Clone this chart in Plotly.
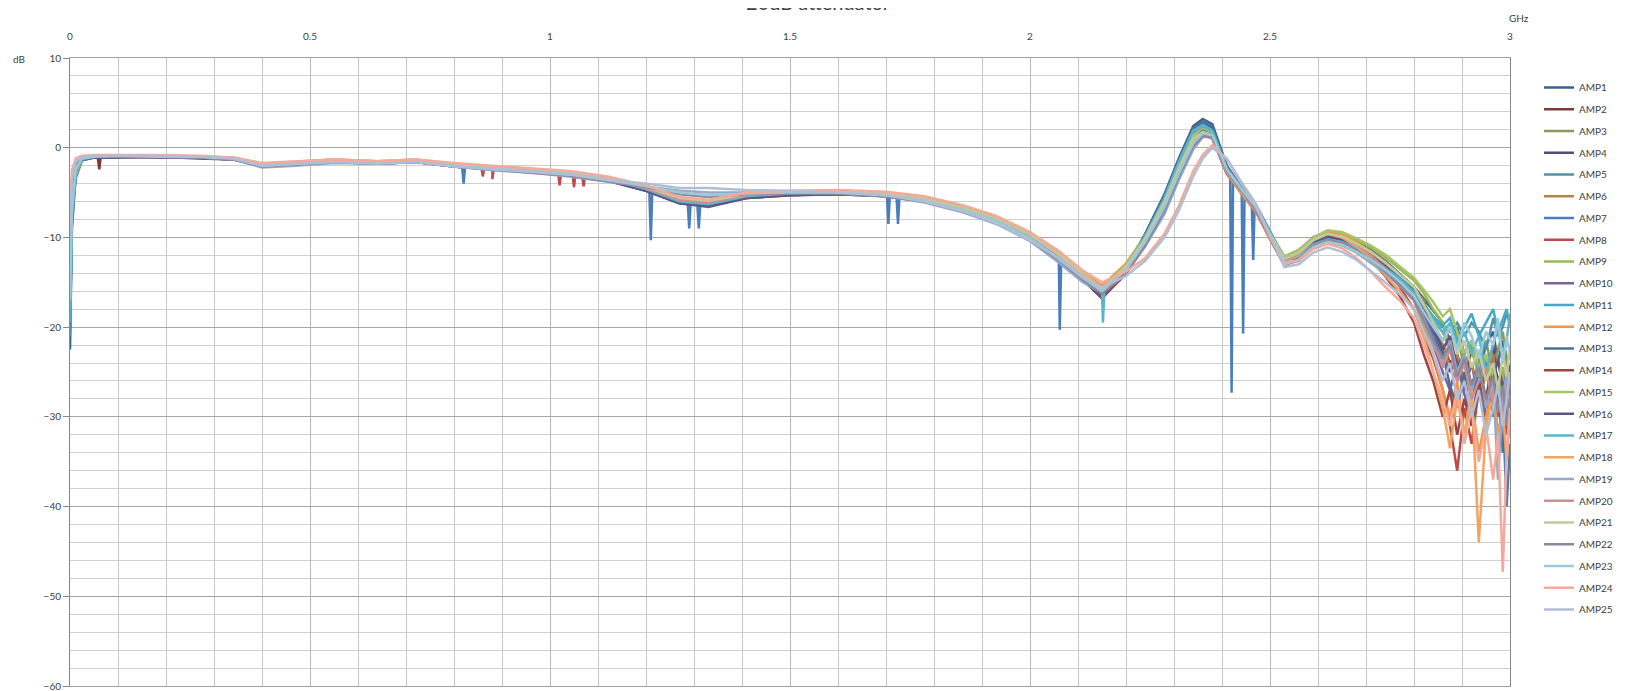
import plotly.graph_objects as go

# ---------------- data ----------------
FREQ_GHZ = [0.000, 0.004, 0.012, 0.025, 0.05,
            0.10, 0.18, 0.27, 0.34, 0.40, 0.47, 0.55, 0.64, 0.72, 0.80, 0.88, 0.96, 1.04, 1.12,
            1.20, 1.27, 1.33, 1.41, 1.50, 1.60, 1.70, 1.78, 1.86, 1.93, 2.00,
            2.06, 2.11, 2.15, 2.20, 2.24, 2.28, 2.31, 2.34, 2.36, 2.38, 2.41, 2.44, 2.47,
            2.50, 2.53, 2.56, 2.59, 2.62, 2.65, 2.68, 2.71, 2.74, 2.77,
            2.80, 2.82, 2.84, 2.86, 2.875, 2.89, 2.905, 2.92, 2.935, 2.95, 2.965, 2.975, 2.985, 2.993, 3.000]

amp1 = [-22.5, -9.0, -3.0, -1.4, -1.1,
        -1.0, -0.9, -1.1, -1.2, -2.1, -1.9, -1.6, -1.8, -1.5, -2.1, -2.4, -2.7, -3.0, -3.6,
        -4.7, -6.2, -6.5, -5.5, -5.2, -5.1, -5.3, -5.9, -6.9, -8.2, -10.1,
        -12.4, -14.6, -16.3, -13.5, -9.6, -5.2, -1.2, 2.4, 3.2, 2.6, -2.0, -4.4, -6.4,
        -9.6, -12.8, -12.2, -10.3, -9.4, -9.6, -10.4, -11.4, -12.6, -14.0,
        -15.5, -16.8, -18.2, -19.5, -21.5, -20.0, -23.0, -21.5, -25.0, -22.0, -20.5, -24.0, -21.5, -23.5, -25.0]
amp2 = [-14.0, -6.5, -2.2, -1.2, -1.1,
        -1.0, -1.0, -1.2, -1.3, -2.0, -1.7, -1.5, -1.6, -1.4, -1.9, -2.2, -2.5, -2.8, -3.4,
        -4.5, -6.1, -6.4, -5.5, -5.0, -4.9, -5.1, -5.7, -6.7, -7.9, -9.7,
        -12.1, -14.4, -16.4, -13.6, -10.1, -5.8, -1.8, 1.6, 2.5, 1.9, -2.4, -4.5, -6.7,
        -9.4, -12.6, -11.6, -10.0, -9.4, -9.7, -10.6, -11.7, -13.1, -14.8,
        -16.5, -18.0, -20.0, -22.0, -24.0, -23.0, -26.0, -22.5, -25.0, -28.0, -23.5, -26.0, -24.5, -27.0, -29.0]
amp3 = [-12.0, -5.5, -2.0, -1.2, -1.0,
        -1.1, -1.0, -1.0, -1.2, -1.9, -1.8, -1.4, -1.7, -1.6, -2.0, -2.3, -2.6, -2.9, -3.5,
        -4.6, -5.9, -6.2, -5.3, -5.1, -5.0, -5.1, -5.7, -6.7, -7.9, -9.6,
        -11.8, -14.0, -15.7, -13.1, -9.9, -5.9, -2.0, 1.3, 2.3, 1.7, -2.6, -4.8, -6.8,
        -9.6, -12.3, -11.8, -10.4, -9.7, -10.1, -10.9, -11.7, -12.8, -14.2,
        -15.8, -17.0, -19.5, -20.5, -22.5, -21.0, -24.5, -22.0, -24.0, -21.5, -25.5, -22.5, -20.5, -24.0, -23.0]
amp4 = [-10.0, -5.0, -1.8, -1.2, -1.0,
        -1.0, -1.1, -1.1, -1.3, -2.1, -1.9, -1.6, -1.7, -1.5, -2.0, -2.4, -2.6, -3.0, -3.6,
        -4.7, -6.1, -6.4, -5.5, -5.2, -5.1, -5.3, -5.9, -7.0, -8.2, -10.1,
        -12.3, -14.7, -16.8, -13.9, -10.4, -6.2, -2.4, 1.0, 2.0, 1.4, -2.7, -4.8, -6.9,
        -9.9, -12.9, -12.2, -10.7, -9.9, -10.4, -11.3, -12.4, -13.6, -15.2,
        -16.8, -18.5, -20.5, -22.5, -25.0, -23.5, -27.0, -24.0, -28.0, -25.0, -22.0, -27.5, -25.0, -29.0, -26.0]
amp5 = [-21.0, -8.5, -2.8, -1.3, -1.0,
        -0.9, -1.0, -1.0, -1.2, -2.0, -1.8, -1.5, -1.7, -1.6, -2.0, -2.3, -2.7, -3.0, -3.6,
        -4.8, -6.2, -6.5, -5.6, -5.3, -5.1, -5.3, -5.9, -6.9, -8.1, -10.0,
        -12.2, -14.4, -16.0, -13.4, -9.8, -5.5, -1.6, 1.9, 2.6, 2.0, -2.2, -4.3, -6.3,
        -9.3, -12.4, -12.4, -10.9, -10.3, -10.6, -11.4, -12.4, -13.6, -14.8,
        -16.2, -17.5, -19.0, -20.0, -20.5, -19.5, -21.0, -19.5, -20.5, -22.5, -19.0, -21.0, -20.0, -18.5, -19.5]
amp6 = [-9.0, -4.5, -1.8, -1.1, -0.9,
        -1.0, -0.9, -1.0, -1.2, -1.9, -1.7, -1.4, -1.6, -1.4, -1.9, -2.2, -2.5, -2.8, -3.4,
        -4.5, -5.9, -6.2, -5.3, -5.0, -4.9, -5.1, -5.6, -6.6, -7.8, -9.6,
        -11.7, -13.9, -15.5, -13.0, -9.9, -5.9, -2.1, 1.4, 2.2, 1.6, -2.5, -4.7, -6.7,
        -9.5, -12.2, -11.4, -10.0, -9.4, -9.7, -10.5, -11.5, -12.7, -14.1,
        -15.6, -17.2, -19.5, -22.0, -24.5, -23.0, -26.0, -24.0, -27.5, -25.5, -23.0, -29.0, -26.5, -24.0, -28.0]
amp7 = [-20.0, -7.5, -3.4, -1.4, -1.1,
        -1.0, -1.0, -1.1, -1.3, -2.1, -1.9, -1.6, -1.8, -1.6, -2.1, -2.4, -2.7, -3.0, -3.6,
        -4.7, -6.1, -6.5, -5.5, -5.2, -5.1, -5.3, -5.9, -6.9, -8.1, -10.0,
        -12.3, -14.5, -16.1, -13.3, -9.7, -5.4, -1.4, 2.1, 2.8, 2.2, -2.3, -4.5, -6.5,
        -9.7, -12.9, -12.3, -10.8, -10.2, -10.5, -11.4, -12.5, -13.8, -15.1,
        -16.8, -18.5, -21.0, -23.5, -22.0, -26.0, -24.0, -28.0, -25.0, -30.0, -27.0, -32.0, -29.0, -40.0, -33.0]
amp8 = [-13.0, -6.0, -2.2, -1.2, -1.0,
        -1.0, -1.0, -1.1, -1.2, -2.0, -1.8, -1.5, -1.7, -1.5, -2.0, -2.3, -2.6, -2.9, -3.5,
        -4.6, -6.0, -6.3, -5.4, -5.1, -5.0, -5.2, -5.8, -6.9, -8.1, -10.0,
        -12.3, -14.6, -16.6, -14.0, -10.6, -6.5, -2.8, 0.7, 1.8, 1.2, -2.8, -5.0, -7.0,
        -10.0, -12.9, -11.9, -10.3, -9.6, -9.9, -10.7, -11.9, -13.6, -15.5,
        -18.0, -21.0, -23.5, -27.0, -31.0, -36.0, -29.0, -33.0, -27.0, -31.0, -26.0, -30.0, -28.0, -32.0, -29.0]
amp9 = [-11.0, -5.0, -3.1, -1.3, -1.0,
        -1.0, -1.0, -1.0, -1.2, -1.9, -1.7, -1.4, -1.6, -1.5, -1.9, -2.2, -2.5, -2.8, -3.4,
        -4.5, -5.9, -6.2, -5.3, -5.0, -4.9, -5.1, -5.7, -6.7, -7.9, -9.7,
        -11.9, -14.1, -15.8, -13.2, -10.0, -5.9, -2.1, 1.2, 2.0, 1.5, -2.6, -4.7, -6.8,
        -9.6, -12.2, -11.6, -10.2, -9.4, -9.6, -10.3, -11.1, -12.2, -13.5,
        -14.8, -16.2, -18.0, -19.5, -22.0, -20.5, -24.0, -22.5, -25.5, -23.5, -26.5, -28.5, -24.5, -27.5, -29.5]
amp10 = [-9.5, -4.8, -1.9, -1.2, -1.0,
         -1.0, -1.0, -1.1, -1.3, -2.0, -1.9, -1.6, -1.7, -1.5, -2.0, -2.4, -2.7, -3.0, -3.6,
         -4.7, -6.1, -6.4, -5.5, -5.2, -5.1, -5.3, -6.0, -7.0, -8.3, -10.2,
         -12.5, -14.7, -16.5, -13.9, -10.6, -6.5, -2.9, 0.5, 1.5, 1.0, -2.9, -5.0, -7.0,
         -10.0, -13.0, -12.3, -10.8, -10.0, -10.4, -11.3, -12.4, -13.7, -15.3,
         -17.0, -19.5, -22.0, -25.0, -27.0, -24.0, -27.5, -30.0, -26.0, -29.0, -25.5, -28.0, -31.0, -27.0, -29.5]
amp11 = [-18.0, -7.0, -2.5, -1.2, -1.0,
         -0.9, -1.0, -1.0, -1.2, -2.0, -1.8, -1.5, -1.6, -1.5, -2.0, -2.3, -2.6, -2.9, -3.5,
         -4.6, -6.0, -6.3, -5.4, -5.1, -5.0, -5.2, -5.8, -6.8, -8.0, -9.9,
         -12.1, -14.3, -15.9, -13.3, -9.8, -5.5, -1.5, 1.8, 2.4, 1.8, -2.3, -4.4, -6.4,
         -9.4, -12.3, -12.1, -10.6, -10.0, -10.3, -11.1, -12.1, -13.2, -14.4,
         -16.0, -17.4, -18.8, -19.8, -19.0, -21.5, -20.0, -18.5, -21.0, -19.5, -18.0, -20.5, -19.0, -18.0, -20.0]
amp12 = [-8.5, -3.5, -1.5, -1.0, -0.9,
         -0.9, -0.9, -1.0, -1.1, -1.8, -1.6, -1.3, -1.5, -1.3, -1.8, -2.1, -2.4, -2.7, -3.3,
         -4.4, -5.8, -6.1, -5.2, -4.9, -4.8, -5.0, -5.5, -6.5, -7.7, -9.5,
         -11.6, -13.8, -15.4, -12.9, -9.8, -5.8, -2.0, 1.3, 2.0, 1.5, -2.6, -4.8, -6.9,
         -9.9, -12.4, -11.7, -10.1, -9.3, -9.6, -10.5, -11.8, -13.2, -14.8,
         -17.0, -20.0, -23.0, -27.0, -30.0, -26.0, -32.0, -28.0, -34.0, -30.0, -27.0, -32.0, -29.0, -26.0, -31.0]
amp13 = [-16.0, -6.5, -2.4, -1.3, -1.1,
         -1.0, -1.0, -1.1, -1.2, -2.1, -1.9, -1.6, -1.7, -1.6, -2.1, -2.4, -2.7, -3.0, -3.7,
         -4.8, -6.2, -6.6, -5.6, -5.3, -5.2, -5.4, -6.0, -7.0, -8.2, -10.1,
         -12.4, -14.6, -16.2, -13.5, -9.7, -5.3, -1.3, 2.2, 2.9, 2.3, -2.1, -4.3, -6.3,
         -9.5, -12.7, -12.0, -10.5, -9.9, -10.3, -11.1, -12.1, -13.3, -14.6,
         -16.3, -18.2, -20.5, -23.0, -26.5, -29.0, -25.0, -31.0, -27.0, -24.0, -30.0, -26.0, -34.0, -29.0, -25.0]
amp14 = [-11.5, -5.5, -2.0, -1.2, -1.0,
         -1.0, -1.0, -1.1, -1.3, -2.0, -1.8, -1.6, -1.7, -1.5, -2.0, -2.3, -2.6, -3.0, -3.6,
         -4.7, -6.1, -6.4, -5.5, -5.1, -5.0, -5.2, -5.9, -6.9, -8.1, -10.0,
         -12.4, -14.7, -16.7, -14.1, -10.7, -6.6, -3.0, 0.6, 1.7, 1.1, -2.9, -5.1, -7.1,
         -10.2, -13.1, -12.2, -10.7, -9.9, -10.3, -11.2, -12.5, -14.3, -16.5,
         -19.5, -23.0, -26.0, -30.0, -27.0, -32.0, -28.0, -31.0, -26.0, -29.0, -25.0, -28.0, -30.0, -27.0, -29.0]
amp15 = [-10.5, -4.5, -1.8, -1.1, -1.0,
         -1.0, -1.0, -1.0, -1.2, -1.9, -1.7, -1.5, -1.6, -1.4, -1.9, -2.2, -2.5, -2.8, -3.4,
         -4.5, -5.9, -6.2, -5.3, -5.0, -4.9, -5.1, -5.6, -6.6, -7.8, -9.6,
         -11.8, -14.0, -15.6, -13.0, -9.9, -5.8, -2.0, 1.4, 2.1, 1.6, -2.5, -4.6, -6.7,
         -9.5, -12.1, -11.4, -10.0, -9.2, -9.4, -10.1, -10.9, -11.9, -13.2,
         -14.5, -15.8, -17.2, -18.8, -18.0, -20.5, -23.0, -21.5, -24.5, -23.0, -25.5, -23.5, -27.0, -24.5, -28.5]
amp16 = [-13.5, -6.0, -2.3, -1.3, -1.1,
         -1.1, -1.0, -1.1, -1.3, -2.1, -1.9, -1.6, -1.8, -1.6, -2.1, -2.4, -2.7, -3.0, -3.7,
         -4.8, -6.2, -6.5, -5.6, -5.3, -5.2, -5.4, -6.0, -7.0, -8.3, -10.2,
         -12.5, -14.8, -16.6, -13.8, -10.4, -6.3, -2.5, 0.9, 1.9, 1.4, -2.7, -4.9, -6.9,
         -9.8, -12.8, -12.1, -10.6, -9.9, -10.2, -11.0, -12.0, -13.2, -14.6,
         -16.0, -18.0, -20.0, -22.5, -21.0, -24.5, -23.0, -26.5, -24.0, -28.0, -26.0, -23.5, -27.0, -25.0, -28.5]
amp17 = [-19.5, -7.5, -2.6, -1.3, -1.0,
         -1.0, -1.0, -1.0, -1.2, -2.0, -1.8, -1.5, -1.7, -1.5, -2.0, -2.3, -2.6, -2.9, -3.5,
         -4.6, -6.0, -6.3, -5.4, -5.1, -5.0, -5.2, -5.8, -6.8, -8.0, -9.9,
         -12.1, -14.3, -15.9, -13.3, -9.9, -5.6, -1.6, 1.9, 2.5, 1.9, -2.3, -4.4, -6.4,
         -9.4, -12.4, -12.2, -10.8, -10.2, -10.5, -11.2, -12.2, -13.4, -14.6,
         -16.1, -17.6, -19.0, -20.6, -19.5, -22.0, -20.5, -23.0, -21.0, -25.0, -22.0, -20.0, -23.5, -21.5, -18.5]
amp18 = [-8.0, -3.5, -1.6, -1.0, -0.9,
         -0.9, -0.9, -1.0, -1.1, -1.8, -1.6, -1.3, -1.5, -1.4, -1.8, -2.1, -2.4, -2.7, -3.3,
         -4.4, -5.8, -6.0, -5.2, -4.9, -4.8, -5.0, -5.5, -6.5, -7.7, -9.5,
         -11.6, -13.9, -15.6, -13.2, -10.3, -6.4, -2.7, 0.7, 1.6, 1.1, -2.8, -5.1, -7.1,
         -10.2, -12.8, -11.9, -10.3, -9.6, -10.0, -11.0, -12.4, -14.2, -16.0,
         -18.0, -21.0, -25.0, -29.0, -33.5, -28.0, -32.0, -27.0, -44.0, -31.0, -27.5, -33.0, -29.0, -35.0, -30.0]
amp19 = [-15.0, -6.5, -2.2, -1.1, -0.9,
         -1.0, -1.0, -1.1, -1.3, -2.2, -2.0, -1.7, -1.8, -1.6, -2.1, -2.5, -2.8, -3.2, -3.8,
         -4.3, -4.8, -5.0, -5.0, -5.0, -5.1, -5.4, -6.1, -7.2, -8.5, -10.4,
         -12.8, -15.0, -16.2, -14.0, -11.0, -7.4, -3.6, -0.2, 1.2, 1.2, -2.4, -4.7, -6.8,
         -9.9, -13.0, -12.6, -11.2, -10.5, -10.9, -11.7, -12.8, -14.0, -15.4,
         -17.0, -19.5, -22.0, -24.0, -21.5, -25.0, -23.0, -27.0, -24.0, -29.0, -26.0, -37.0, -28.0, -25.0, -30.0]
amp20 = [-12.5, -5.5, -2.0, -1.1, -0.9,
         -0.9, -1.0, -1.0, -1.2, -1.9, -1.7, -1.5, -1.6, -1.5, -1.9, -2.2, -2.5, -2.8, -3.4,
         -4.5, -5.8, -6.1, -5.3, -5.0, -4.9, -5.1, -5.7, -6.7, -7.9, -9.7,
         -12.0, -14.2, -16.0, -13.4, -10.3, -6.4, -2.8, 0.5, 1.4, 1.0, -2.7, -4.9, -7.0,
         -9.9, -12.7, -11.8, -10.3, -9.6, -9.9, -10.8, -12.0, -13.5, -15.1,
         -17.0, -19.0, -21.5, -24.5, -22.5, -26.0, -24.0, -28.0, -26.0, -24.5, -29.0, -26.5, -30.0, -27.0, -32.0]
amp21 = [-10.0, -4.5, -1.7, -1.1, -0.9,
         -0.9, -0.9, -1.0, -1.2, -1.9, -1.7, -1.4, -1.6, -1.4, -1.9, -2.2, -2.5, -2.8, -3.4,
         -4.4, -5.6, -5.9, -5.2, -4.9, -4.9, -5.1, -5.7, -6.7, -7.9, -9.7,
         -11.9, -14.1, -15.8, -13.3, -10.1, -6.0, -2.3, 1.0, 1.8, 1.4, -2.6, -4.7, -6.8,
         -9.6, -12.4, -11.7, -10.3, -9.6, -9.9, -10.7, -11.6, -12.8, -14.1,
         -15.5, -17.5, -19.5, -21.5, -20.0, -23.0, -21.5, -24.5, -22.5, -26.0, -24.0, -27.0, -23.0, -25.5, -22.0]
amp22 = [-12.0, -5.0, -2.0, -1.2, -1.0,
         -1.0, -1.0, -1.1, -1.3, -2.1, -1.9, -1.6, -1.8, -1.6, -2.1, -2.4, -2.8, -3.1, -3.7,
         -4.4, -5.2, -5.5, -5.2, -5.1, -5.1, -5.4, -6.0, -7.1, -8.3, -10.2,
         -12.5, -14.7, -16.3, -14.0, -10.9, -7.0, -3.2, 0.2, 1.3, 1.2, -2.6, -4.8, -6.9,
         -10.0, -13.1, -12.5, -11.0, -10.3, -10.6, -11.4, -12.5, -13.8, -15.3,
         -17.0, -19.2, -21.5, -23.5, -22.0, -25.5, -23.5, -26.5, -24.5, -28.0, -25.5, -29.5, -26.5, -31.0, -28.0]
amp23 = [-17.0, -7.0, -2.4, -1.2, -1.0,
         -0.9, -1.0, -1.0, -1.2, -2.0, -1.8, -1.5, -1.7, -1.5, -2.0, -2.3, -2.6, -2.9, -3.6,
         -4.3, -5.0, -5.3, -5.1, -5.0, -5.0, -5.3, -5.9, -7.0, -8.2, -10.1,
         -12.4, -14.5, -16.0, -13.6, -10.5, -6.6, -2.9, 0.5, 1.6, 1.4, -2.4, -4.6, -6.6,
         -9.8, -12.8, -12.5, -11.1, -10.5, -10.8, -11.6, -12.5, -13.6, -14.9,
         -16.5, -18.3, -20.0, -21.5, -20.0, -22.5, -19.5, -21.0, -23.5, -20.5, -22.0, -19.0, -24.0, -21.0, -23.0]
amp24 = [-7.0, -2.5, -1.2, -0.9, -0.8,
         -0.8, -0.8, -0.9, -1.1, -1.7, -1.5, -1.3, -1.5, -1.3, -1.7, -2.0, -2.3, -2.6, -3.2,
         -4.2, -5.5, -5.8, -5.0, -4.8, -4.7, -4.9, -5.4, -6.4, -7.6, -9.4,
         -11.5, -13.7, -15.0, -13.8, -12.3, -9.6, -6.5, -2.6, -0.8, 0.3, -1.3, -3.9, -6.3,
         -9.9, -13.0, -12.5, -11.3, -10.7, -11.2, -12.3, -13.8, -15.5, -17.0,
         -19.0, -22.0, -25.0, -28.0, -31.0, -27.0, -33.0, -29.0, -35.0, -31.0, -37.0, -32.0, -47.3, -34.0, -29.0]
amp25 = [-9.0, -3.5, -1.5, -1.0, -0.9,
         -0.9, -0.9, -1.0, -1.2, -2.0, -1.8, -1.6, -1.8, -1.6, -2.1, -2.4, -2.7, -3.0, -3.6,
         -4.0, -4.5, -4.5, -4.7, -4.8, -5.0, -5.3, -6.0, -7.1, -8.4, -10.3,
         -12.3, -14.5, -15.6, -14.3, -12.6, -10.0, -7.0, -3.2, -1.2, 0.0, -1.2, -3.8, -6.2,
         -9.7, -13.3, -13.0, -11.7, -11.1, -11.6, -12.5, -13.7, -15.0, -16.3,
         -18.0, -20.5, -23.0, -26.0, -24.0, -28.0, -26.0, -30.0, -27.0, -32.0, -29.0, -26.5, -31.0, -28.0, -25.0]

# narrow glitches visible on single traces
AMP2_SPIKE_F = [0.058, 0.061, 0.064]
AMP2_SPIKE_DB = [-1.1, -2.4, -1.05]
AMP7_SPIKE_F = [0.817, 0.820, 0.823,
                1.207, 1.210, 1.213, 1.287, 1.290, 1.293, 1.307, 1.310, 1.313,
                1.702, 1.705, 1.708, 1.722, 1.725, 1.728, 2.059, 2.062, 2.065,
                2.417, 2.420, 2.423, 2.441, 2.444, 2.447, 2.462, 2.465, 2.468]
AMP7_SPIKE_DB = [-2.2, -4.0, -2.2,
                 -4.85, -10.3, -4.95, -6.2, -9.0, -6.25, -6.35, -9.0, -6.4,
                 -5.3, -8.5, -5.35, -5.45, -8.5, -5.5, -12.35, -20.3, -12.5,
                 -2.9, -27.3, -3.1, -4.7, -20.7, -4.9, -6.1, -12.5, -6.3]
AMP8_SPIKE_F = [0.857, 0.860, 0.863, 0.877, 0.880, 0.883,
                1.017, 1.020, 1.023, 1.047, 1.050, 1.053, 1.067, 1.070, 1.073]
AMP8_SPIKE_DB = [-2.2, -3.2, -2.25, -2.3, -3.5, -2.3,
                 -2.8, -4.2, -2.85, -3.0, -4.4, -3.0, -3.15, -4.3, -3.2]
AMP17_SPIKE_F = [2.152, 2.155]
AMP17_SPIKE_DB = [-19.5, -15.6]

SERIES_NAMES = ["AMP%d" % i for i in range(1, 26)]
SERIES_VALUES = [amp1, amp2, amp3, amp4, amp5, amp6, amp7, amp8, amp9, amp10,
                 amp11, amp12, amp13, amp14, amp15, amp16, amp17, amp18, amp19, amp20,
                 amp21, amp22, amp23, amp24, amp25]
SPIKES = {"AMP2": (AMP2_SPIKE_F, AMP2_SPIKE_DB),
          "AMP7": (AMP7_SPIKE_F, AMP7_SPIKE_DB),
          "AMP8": (AMP8_SPIKE_F, AMP8_SPIKE_DB),
          "AMP17": (AMP17_SPIKE_F, AMP17_SPIKE_DB)}

COLORS = ["#3B6291", "#7B3B3A", "#8D9A58", "#5A4A78", "#4E93AA", "#B5834A",
          "#4A7EBB", "#BE4B48", "#98B954", "#7D60A0", "#46AAC5", "#F59645",
          "#4C6F96", "#9A4744", "#A8C46A", "#63527F", "#5AB5CC", "#F3A460",
          "#94A9C9", "#C99090", "#BFCB9E", "#8E8799", "#9BC9D8", "#F4AA9A", "#B2BED6"]

for name, vals in zip(SERIES_NAMES, SERIES_VALUES):
    assert len(vals) == len(FREQ_GHZ), (name, len(vals))

# ---------------- figure ----------------
# the page body has an 8px default margin, so the figure is 8px smaller
W, H = 1617, 683
ML, MT, PW, PH = 62, 50, 1440, 628
FONT = "Lato, 'Open Sans', sans-serif"


def px_x(x):  # figure-pixel x -> paper x
    return (x - ML) / PW


def px_y(y):  # figure-pixel y -> paper y
    return 1 - (y - MT) / PH


fig = go.Figure()
for name, vals, col in zip(SERIES_NAMES, SERIES_VALUES, COLORS):
    pts = list(zip(FREQ_GHZ, vals))
    if name in SPIKES:
        pts += list(zip(*SPIKES[name]))
        pts.sort(key=lambda p: p[0])
    fig.add_trace(go.Scatter(
        x=[p[0] for p in pts], y=[p[1] for p in pts], name=name, mode="lines",
        legendgroup=name, line=dict(color=col, width=2.5), hoverinfo="skip"))

fig.update_layout(
    width=W, height=H,
    margin=dict(l=ML, r=W - ML - PW, t=MT, b=H - MT - PH, autoexpand=False),
    paper_bgcolor="white", plot_bgcolor="white",
    font=dict(family=FONT, size=10, color="#404040"),
    showlegend=True,
    legend=dict(x=px_x(1531), xanchor="left", y=px_y(65), yanchor="top",
                traceorder="grouped", tracegroupgap=2.75,
                font=dict(family=FONT, size=10, color="#404040"),
                bgcolor="rgba(0,0,0,0)", borderwidth=0),
    xaxis=dict(side="top", range=[0, 3], dtick=0.5, tick0=0,
               showgrid=True, gridcolor="#B8B8B8", gridwidth=1,
               minor=dict(dtick=0.1, tick0=0, showgrid=True, gridcolor="#C8C8C8", gridwidth=1),
               ticks="outside", ticklen=13, tickcolor="rgba(0,0,0,0)",
               showline=True, linecolor="#A0A0A0", mirror=True, zeroline=False,
               automargin=False,
               tickfont=dict(family=FONT, size=10, color="#404040")),
    yaxis=dict(range=[-60, 10], dtick=10, tick0=0,
               showgrid=True, gridcolor="#A6A6A6", gridwidth=1,
               minor=dict(dtick=2, tick0=0, showgrid=True, gridcolor="#CFCFCF", gridwidth=1),
               ticks="outside", ticklen=6, tickcolor="#868686",
               showline=True, linecolor="#868686", mirror=True, zeroline=False,
               automargin=False, ticklabeloverflow="allow",
               tickfont=dict(family=FONT, size=10, color="#404040")),
)

fig.add_annotation(text="20dB attenuator", xref="paper", yref="paper",
                   x=px_x(810), y=px_y(-6), xanchor="center", yanchor="middle",
                   showarrow=False, font=dict(family=FONT, size=20, color="#404040"))
fig.add_annotation(text="dB", xref="paper", yref="paper",
                   x=px_x(11), y=px_y(51), xanchor="center", yanchor="middle",
                   showarrow=False, font=dict(family=FONT, size=10, color="#404040"))
fig.add_annotation(text="GHz", xref="paper", yref="paper",
                   x=px_x(1511), y=px_y(10), xanchor="center", yanchor="middle",
                   showarrow=False, font=dict(family=FONT, size=10, color="#404040"))

fig.write_html("out.html")
